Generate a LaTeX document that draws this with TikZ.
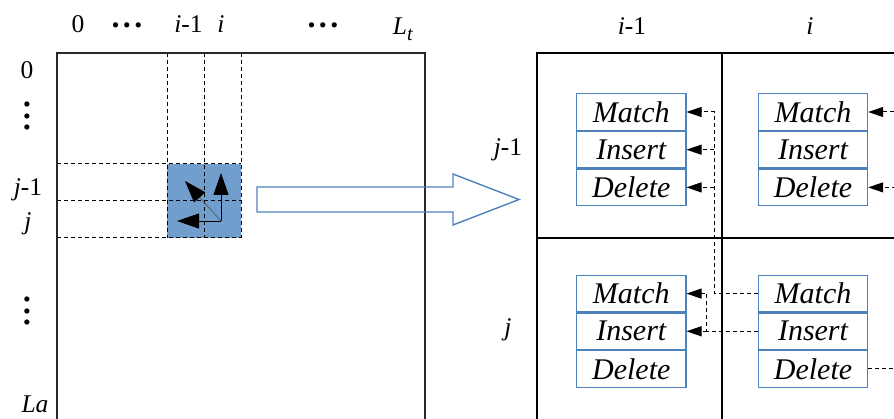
\documentclass[tikz,border=0pt]{standalone}
\usepackage{fontspec}
\setmainfont{Liberation Serif}
\usetikzlibrary{arrows.meta}

\definecolor{cellfill}{RGB}{114,158,206}
\definecolor{boxblue}{RGB}{79,129,189}
\definecolor{gridgray}{RGB}{40,40,40}

\tikzset{
  lab/.style={font=\fontsize{25.5}{30}\selectfont, inner sep=0pt, anchor=base},
  dots/.style={font=\fontsize{32}{36}\selectfont\bfseries, inner sep=0pt},
  gridline/.style={draw=gridgray, line width=1.4pt},
  gridsep/.style={draw=black, line width=1pt, dash pattern=on 4pt off 3pt},
  cell/.style={draw=boxblue, line width=1.1pt, minimum width=109.3pt, minimum height=36.6pt,
    inner sep=0pt, font=\fontsize{30}{33}\selectfont\itshape},
  conn/.style={draw=black, line width=1pt, dash pattern=on 4pt off 3pt},
  ptr/.style={conn, -{Triangle[length=15pt,width=10pt]}},
  move/.style={draw=black, line width=0.9pt, -{Triangle[length=22pt,width=15pt,color=black]}},
  hollow/.style={draw=boxblue, line width=1.4pt, line join=miter},
}

\begin{document}
\begin{tikzpicture}[x=1pt, y=-1pt]
\useasboundingbox (0,0) rectangle (894,419);
\clip (0,0) rectangle (894,419);

% ---- dynamic-programming matrix ----
\fill[cellfill] (167,164) rectangle (241,238);
\foreach \x in {167,204,241} \draw[gridsep] (\x,53) -- (\x,238);
\foreach \y in {164,201,238} \draw[gridsep] (57,\y) -- (241,\y);
\draw[gridline] (57,440) -- (57,53) -- (425,53) -- (425,440);

% moves into cell (i,j)
\coordinate (corner) at (221,221);
\coordinate (up) at (221,173);
\coordinate (left) at (177,221);
\coordinate (diag) at (185,181);
\draw[move] (corner) -- (up);
\draw[move] (corner) -- (left);
\draw[move, draw=black!65, line width=0.7pt] (corner) -- (diag);

% column labels
\node[lab] (c0) at (78,33) {0};
\node[dots] (cd1) at (127,25) {.\hspace{3.5pt}.\hspace{3.5pt}.};
\node[lab] (cim) at (188.5,33) {\textit{i}-1};
\node[lab] (ci) at (221,33) {\textit{i}};
\node[dots] (cd2) at (323,25) {.\hspace{3.5pt}.\hspace{3.5pt}.};
\node[lab] (cL) at (403,35) {\textit{L}\raisebox{-6pt}{\fontsize{20}{24}\selectfont\textit{t}}};

% row labels
\node[lab] (r0) at (27,79) {0};
\node[dots, rotate=90] (rd1) at (27,116) {.\hspace{3.5pt}.\hspace{3.5pt}.};
\node[lab] (rjm) at (28,196) {\textit{j}-1};
\node[lab] (rj) at (28,230) {\textit{j}};
\node[dots, rotate=90] (rd2) at (27,311) {.\hspace{3.5pt}.\hspace{3.5pt}.};
\node[lab] (rL) at (35,412) {\textit{La}};

% ---- zoom arrow ----
\draw[hollow] (257,187) -- (453,187) -- (453,174) -- (519,199.5)
  -- (453,225) -- (453,212) -- (257,212) -- cycle;

% ---- enlarged cells ----
\draw[gridline, draw=black] (537,440) -- (537,53) -- (900,53);
\draw[gridline, draw=black] (722,53) -- (722,440);
\draw[gridline, draw=black] (537,238) -- (900,238);

\node[lab] (bim) at (632,35) {\textit{i}-1};
\node[lab] (bi) at (810,35) {\textit{i}};
\node[lab] (bjm) at (508,156) {\textit{j}-1};
\node[lab] (bj) at (508,336) {\textit{j}};

% state boxes of the four cells
\node[cell] (TLm) at (631.3,112) {Match};
\node[cell, anchor=north] (TLi) at (TLm.south) {Insert};
\node[cell, anchor=north] (TLd) at (TLi.south) {Delete};
\node[cell] (TRm) at (813,112) {Match};
\node[cell, anchor=north] (TRi) at (TRm.south) {Insert};
\node[cell, anchor=north] (TRd) at (TRi.south) {Delete};
\node[cell] (BLm) at (631.3,293.6) {Match};
\node[cell, anchor=north] (BLi) at (BLm.south) {Insert};
\node[cell, anchor=north] (BLd) at (BLi.south) {Delete};
\node[cell] (BRm) at (813,293.6) {Match};
\node[cell, anchor=north] (BRi) at (BRm.south) {Insert};
\node[cell, anchor=north] (BRd) at (BRi.south) {Delete};

% back pointers
\coordinate (v1) at (714.3,0);
\coordinate (v2) at (706.7,0);
\coordinate (v3) at (910,0);
\draw[ptr] (BRm.west) -| (v1 |- TLm.east) -- (TLm.east);
\draw[ptr] (v1 |- TLi.east) -- (TLi.east);
\draw[ptr] (v1 |- TLd.east) -- (TLd.east);
\draw[ptr] (BRi.west) -| (v2 |- BLm.east) -- (BLm.east);
\draw[ptr] (v2 |- BLi.east) -- (BLi.east);
\draw[ptr] (BRd.east) -| (v3 |- TRm.east) -- (TRm.east);
\draw[ptr] (v3 |- TRd.east) -- (TRd.east);
\end{tikzpicture}
\end{document}
